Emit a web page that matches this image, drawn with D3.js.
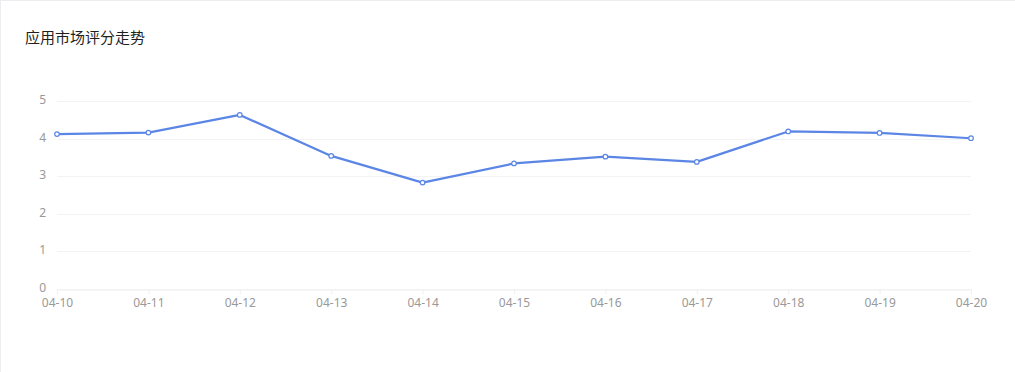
<!DOCTYPE html>
<html><head><meta charset="utf-8">
<script src="https://cdn.jsdelivr.net/npm/d3@7"></script>
<style>html,body{margin:0;padding:0;background:#fff;}svg{display:block;}</style>
</head><body>
<svg id="c" width="1015" height="372"></svg>
<script>
const title = "应用市场评分走势";
const categories = ["04-10","04-11","04-12","04-13","04-14","04-15","04-16","04-17","04-18","04-19","04-20"];
const scores = [4.12,4.16,4.63,3.54,2.83,3.34,3.52,3.38,4.19,4.15,4.01];
const yTicks = [0,1,2,3,4,5];

const svg = d3.select("#c");
const W = 1015, H = 372;
svg.append("rect").attr("x",0).attr("y",0).attr("width",W).attr("height",H).attr("fill","#fff");
svg.append("line").attr("x1",0).attr("x2",W).attr("y1",0.5).attr("y2",0.5).attr("stroke","#ebedf0");
svg.append("line").attr("x1",0.5).attr("x2",0.5).attr("y1",0).attr("y2",H).attr("stroke","#ebedf0");
svg.append("text").attr("x",25).attr("y",43).text(title)
  .attr("font-family","'Noto Sans CJK SC', sans-serif").attr("font-size",15).attr("fill","#1f1f1f");

const L = 57, R = 971, T = 101, B = 289;
const x = d3.scalePoint().domain(categories).range([L,R]);
const y = d3.scaleLinear().domain([0,5]).range([B,T]);

const font = "'Noto Sans', 'DejaVu Sans', sans-serif";
// grid
const g = svg.append("g");
g.selectAll("line.grid").data(yTicks).join("line")
  .attr("x1",L).attr("x2",R).attr("y1",d=>Math.round(y(d))+0.5).attr("y2",d=>Math.round(y(d))+0.5)
  .attr("stroke","#f3f3f3");
// y labels
g.selectAll("text.yl").data(yTicks).join("text")
  .attr("x",46).attr("y",d=>y(d)+3).attr("text-anchor","end")
  .attr("font-family",font).attr("font-size",12).attr("fill","#999").text(d=>d);
// x axis
const xa = svg.append("g").attr("transform",`translate(0,${B+0.5})`)
  .call(d3.axisBottom(x).tickSize(5).tickPadding(5));
xa.select(".domain").attr("stroke","#f0f0f0");
xa.selectAll(".tick line").attr("stroke","#f0f0f0");
xa.selectAll(".tick text").attr("font-family",font).attr("font-size",12).attr("fill","#999").attr("dy","0.6em");

// line
const line = d3.line().x((d,i)=>x(categories[i])).y(d=>y(d));
svg.append("path").datum(scores).attr("d",line).attr("fill","none")
  .attr("stroke","#5b86e5").attr("stroke-width",2.2).attr("stroke-linejoin","round");
svg.selectAll("circle.pt").data(scores).join("circle")
  .attr("cx",(d,i)=>x(categories[i])).attr("cy",d=>y(d)).attr("r",2.3)
  .attr("fill","#fff").attr("stroke","#5b86e5").attr("stroke-width",1.2);
</script>
</body></html>
